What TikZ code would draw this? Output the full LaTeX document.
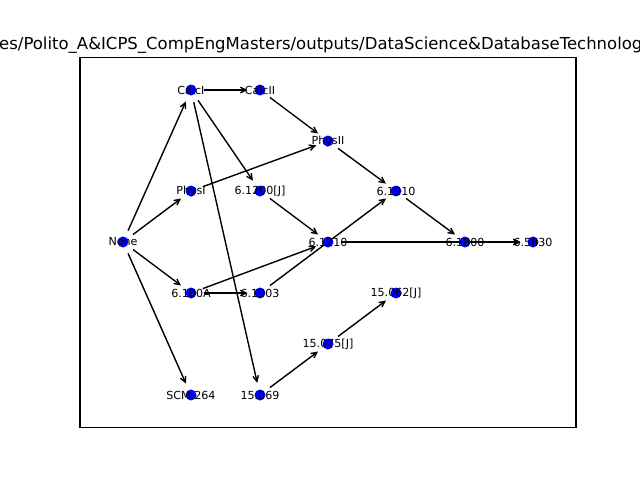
\documentclass[tikz,border=0pt]{standalone}
\usepackage{fontspec}
\setmainfont{DejaVu Sans}
\usetikzlibrary{arrows.meta}
\tikzset{
  px/.style={x=1pt,y=-1pt},
  vert/.style={circle,fill=blue,inner sep=0pt,minimum size=11pt},
  lbl/.style={inner sep=0pt,font=\fontsize{11.11}{13}\selectfont,text=black},
  edge/.style={draw=black,line width=1.39pt,-{Straight Barb[length=5.6pt,width=5.6pt,line width=1.39pt]},shorten >=12.5pt,shorten <=12.5pt},
  ttl/.style={inner sep=0pt,font=\fontsize{16.5}{20}\selectfont,anchor=base west}
}
\begin{document}
\begin{tikzpicture}[px]
\useasboundingbox (0,0) rectangle (640,480);
\fill[white] (0,0) rectangle (640,480);
\clip (0,0) rectangle (640,480);
\draw[line width=1.1pt] (80,57.6) rectangle (576,427.2);
\node[ttl] (title) at (-1,49.3) {es/Polito\_A\&ICPS\_CompEngMasters/outputs/DataScience\&DatabaseTechnolog};
% node positions
\coordinate (CalcI) at (191,90);
\coordinate (CalcII) at (260,90);
\coordinate (PhysII) at (328,141);
\coordinate (PhysI) at (191,191);
\coordinate (n61200) at (260,191);
\coordinate (n61910) at (396,191);
\coordinate (None) at (123,242);
\coordinate (n61210) at (328,242);
\coordinate (n61800) at (465,242);
\coordinate (n65830) at (533,242);
\coordinate (n6100A) at (191,293);
\coordinate (n61903) at (260,293);
\coordinate (n15062) at (396,293);
\coordinate (n15075) at (328,344);
\coordinate (SCM) at (191,395);
\coordinate (n15069) at (260,395);
% edges
\draw[edge] (CalcI) -- (CalcII);
\draw[edge] (CalcII) -- (PhysII);
\draw[edge] (None) -- (CalcI);
\draw[edge] (None) -- (PhysI);
\draw[edge] (None) -- (n6100A);
\draw[edge] (None) -- (SCM);
\draw[edge] (CalcI) -- (n61200);
\draw[edge] (CalcI) -- (n15069);
\draw[edge] (PhysI) -- (PhysII);
\draw[edge] (PhysII) -- (n61910);
\draw[edge] (n61200) -- (n61210);
\draw[edge] (n6100A) -- (n61210);
\draw[edge] (n6100A) -- (n61903);
\draw[edge] (n61903) -- (n61910);
\draw[edge] (n61910) -- (n61800);
\draw[edge] (n61210) -- (n65830);
\draw[edge] (n61800) -- (n65830);
\draw[edge] (n15069) -- (n15075);
\draw[edge] (n15075) -- (n15062);
% nodes
\foreach \n in {CalcI,CalcII,PhysII,PhysI,n61200,n61910,None,n61210,n61800,n65830,n6100A,n61903,n15062,n15075,SCM,n15069}
  \node[vert] (v\n) at (\n) {};
% labels
\node[lbl] (lCalcI) at (CalcI) {CalcI};
\node[lbl] (lCalcII) at (CalcII) {CalcII};
\node[lbl] (lPhysII) at (PhysII) {PhysII};
\node[lbl] (lPhysI) at (PhysI) {PhysI};
\node[lbl] (l61200) at (n61200) {6.1200[J]};
\node[lbl] (l61910) at (n61910) {6.1910};
\node[lbl] (lNone) at (None) {None};
\node[lbl] (l61210) at (n61210) {6.1210};
\node[lbl] (l61800) at (n61800) {6.1800};
\node[lbl] (l65830) at (n65830) {6.5830};
\node[lbl] (l6100A) at (n6100A) {6.100A};
\node[lbl] (l61903) at (n61903) {6.1903};
\node[lbl] (l15062) at (n15062) {15.062[J]};
\node[lbl] (l15075) at (n15075) {15.075[J]};
\node[lbl] (lSCM) at (SCM) {SCM.264};
\node[lbl] (l15069) at (n15069) {15.069};
\end{tikzpicture}
\end{document}
